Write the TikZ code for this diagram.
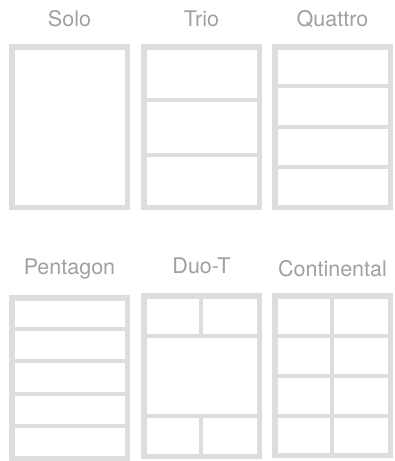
\documentclass[tikz,border=0pt]{standalone}
\usepackage{fontspec}
\setmainfont{TeX Gyre Heros}
\definecolor{FrameGray}{RGB}{220,221,222}
\definecolor{LabelGray}{RGB}{160,160,160}
\usetikzlibrary{positioning}

\begin{document}
\begin{tikzpicture}[x=1pt,y=-1pt,
    label/.style={anchor=base,text=LabelGray,font=\fontsize{21.5}{24}\selectfont,inner sep=0pt},
    frame/.style={draw=FrameGray,line width=5.5pt},
    divider/.style={draw=FrameGray,line width=4pt}]
  \useasboundingbox (0,0) rectangle (395,461);
  % titles
  \node[label] (solo)        at (69.5,26.5)  {Solo};
  \node[label] (trio)        at (201.5,26.5) {Trio};
  \node[label] (quattro)     at (332.5,26.5) {Quattro};
  \node[label] (pentagon)    at (69.5,274.5) {Pentagon};
  \node[label] (duot)        at (201.5,273.5) {Duo-T};
  \node[label] (continental) at (332.5,276.5) {Continental};
  % top row
  \draw[frame] (11.75,46.75) rectangle (127.25,207.25);
  \draw[frame] (143.75,46.75) rectangle (259.25,207.25);
  \foreach \y in {100,154.5}
    \draw[divider] (141,\y) -- (262,\y);
  \draw[frame] (274.75,46.75) rectangle (390.25,207.25);
  \foreach \y in {86.2,127,167}
    \draw[divider] (272,\y) -- (393,\y);
  % bottom row
  \draw[frame] (11.75,297.75) rectangle (127.25,458.25);
  \foreach \y in {329.3,361.3,393.7,425.5}
    \draw[divider] (9,\y) -- (130,\y);
  \draw[frame] (143.75,295.75) rectangle (259.25,456.25);
  \foreach \y in {336,416.2}
    \draw[divider] (141,\y) -- (262,\y);
  \draw[divider] (201.4,293) -- (201.4,336);
  \draw[divider] (201.4,416.2) -- (201.4,459);
  \draw[frame] (274.75,295.75) rectangle (390.25,455.25);
  \foreach \y in {336,376,415.8}
    \draw[divider] (272,\y) -- (393,\y);
  \draw[divider] (332,293) -- (332,458);
\end{tikzpicture}
\end{document}
